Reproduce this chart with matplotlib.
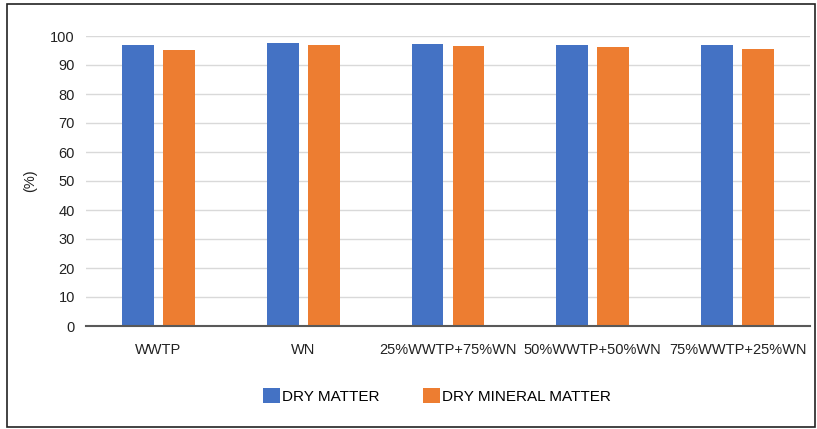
import matplotlib.pyplot as plt
import numpy as np
from matplotlib.patches import Rectangle

categorias = ['WWTP', 'WN', '25%WWTP+75%WN', '50%WWTP+50%WN', '75%WWTP+25%WN']
dry_matter = [97.0, 97.6, 97.2, 97.0, 96.9]
dry_mineral = [95.2, 96.8, 96.5, 96.1, 95.5]
yticks = list(range(0, 101, 10))

plt.rcParams['font.family'] = ['Liberation Sans', 'DejaVu Sans']

fig = plt.figure(figsize=(8.17, 4.29), dpi=100)
ax = fig.add_axes([86 / 817, 1 - 326 / 429, (810 - 86) / 817, (326 - 36) / 429])

x = np.arange(len(categorias))
w = 0.22
ax.bar(x - 0.142, dry_matter, w, color='#4472C4', label='DRY MATTER', zorder=3)
ax.bar(x + 0.142, dry_mineral, w, color='#ED7D31', label='DRY MINERAL MATTER', zorder=3)

ax.set_xlim(-0.5, len(categorias) - 0.5)
ax.set_ylim(0, 100)
ax.set_yticks(yticks)
ax.set_xticks(x)
ax.set_xticklabels(categorias, fontsize=10.5, color='#222222')
ax.tick_params(axis='x', length=0, pad=12)
ax.tick_params(axis='y', length=0, pad=8, labelsize=10.5, labelcolor='#222222')
ax.yaxis.grid(True, color='#D9D9D9', linewidth=1)
ax.set_axisbelow(True)
for s in ['top', 'right', 'left']:
    ax.spines[s].set_visible(False)
ax.spines['bottom'].set_color('#595959')
ax.spines['bottom'].set_linewidth(1.5)
ax.spines['bottom'].set_zorder(4)

fig.text(30 / 817, 1 - 181 / 429, '(%)', rotation=90, ha='center', va='center',
         fontsize=10.5, color='#222222')

fig.legend(loc='center', bbox_to_anchor=(437 / 817, 1 - 396 / 429), ncol=2,
           frameon=False, fontsize=11, handlelength=1.1, handleheight=1.1,
           handletextpad=0.15, columnspacing=2.8)

fig.patches.append(Rectangle((7 / 817, 2 / 429), 808 / 817, 423 / 429,
                             transform=fig.transFigure, fill=False,
                             edgecolor='#222222', linewidth=1.2))

plt.savefig('out.png', dpi=100)
plt.close()
